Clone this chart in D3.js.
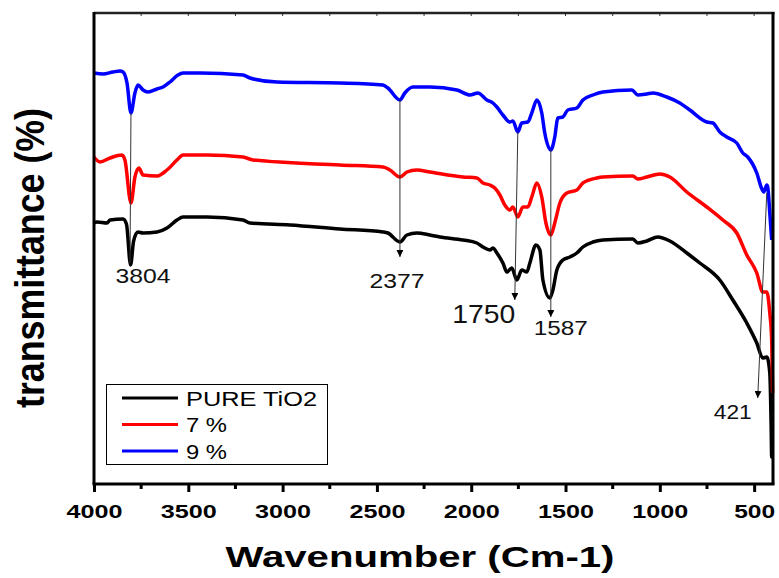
<!DOCTYPE html>
<html>
<head>
<meta charset="utf-8">
<script src="https://cdn.jsdelivr.net/npm/d3@7"></script>
<style>
  body { margin: 0; background: white; }
  svg { display: block; }
</style>
</head>
<body>
<div id="chart"></div>
<script>
// [wavenumber (cm-1), transmittance (a.u.)]
let pureTiO2 = [
  [4000,52.2],[3984,52.4],[3931,52.2],[3915,52.8],[3846,53.0],[3828,52.0],[3806,43.8],[3790,48.6],
  [3767,50.4],[3740,50.2],[3666,50.4],[3613,51.2],[3560,52.8],[3528,53.4],[3401,53.4],[3210,52.8],
  [3173,52.2],[2961,51.8],[2696,51.0],[2468,50.4],[2442,50.2],[2378,48.4],[2341,49.8],[2288,50.2],
  [2219,49.8],[2166,49.4],[2044,48.8],[1970,48.2],[1938,47.4],[1901,46.8],[1885,47.2],[1864,46.2],
  [1832,44.2],[1811,42.4],[1785,43.2],[1758,40.8],[1732,42.8],[1705,42.4],[1689,44.2],[1657,47.8],
  [1636,46.8],[1620,40.8],[1583,37.2],[1567,38.8],[1546,42.8],[1514,44.8],[1477,45.4],[1440,46.2],
  [1408,47.4],[1355,48.4],[1302,48.8],[1143,49.0],[1117,48.2],[1069,48.6],[1011,49.4],[947,48.6],
  [857,46.2],[788,44.2],[682,40.8],[613,36.8],[539,32.2],[486,28.2],[454,25.2],[433,25.4],
  [417,22.2],[410,12.0],[407,5.4],[402,5.4]
];
let doped7 = [
  [4000,65.4],[3968,64.4],[3915,65.2],[3852,65.8],[3836,64.8],[3804,56.2],[3783,61.4],[3762,63.2],
  [3740,61.8],[3666,61.6],[3613,62.8],[3560,64.8],[3528,65.8],[3401,65.8],[3210,65.4],[3157,64.8],
  [2696,63.8],[2468,63.4],[2431,62.8],[2378,61.4],[2341,62.4],[2288,62.8],[2219,62.4],[2044,61.4],
  [1970,61.2],[1938,60.2],[1901,59.8],[1875,59.2],[1848,57.8],[1822,55.8],[1795,54.8],[1779,55.4],
  [1753,53.4],[1726,55.4],[1700,55.4],[1679,57.4],[1652,60.2],[1626,57.4],[1604,52.2],[1578,49.8],
  [1557,52.2],[1530,56.2],[1493,58.2],[1440,58.8],[1408,60.2],[1334,61.2],[1302,61.4],[1143,61.6],
  [1117,61.0],[1069,61.4],[1000,62.0],[947,61.4],[857,58.4],[751,55.4],[666,52.8],[592,50.2],
  [539,45.8],[486,42.2],[454,38.4],[433,38.4],[417,34.2],[407,28.8],[402,18.2]
];
let doped9 = [
  [4000,82.2],[3952,82.0],[3899,82.4],[3862,82.6],[3846,82.4],[3825,80.2],[3804,74.2],[3783,78.2],
  [3767,79.8],[3740,78.8],[3714,78.4],[3666,79.0],[3634,79.4],[3597,80.4],[3555,81.8],[3528,82.2],
  [3438,82.2],[3210,81.8],[3173,81.2],[3030,80.4],[2696,80.2],[2468,79.8],[2442,79.2],[2378,76.8],
  [2352,78.2],[2309,79.4],[2219,79.4],[2076,78.8],[2007,77.8],[1965,78.2],[1917,76.8],[1885,76.2],
  [1864,75.4],[1832,73.8],[1795,72.4],[1779,72.6],[1753,70.4],[1732,72.2],[1700,72.4],[1679,74.2],
  [1652,76.8],[1626,74.2],[1610,70.2],[1578,66.8],[1557,69.4],[1541,73.2],[1514,73.4],[1488,74.8],
  [1440,75.2],[1408,76.8],[1355,77.8],[1302,78.4],[1148,78.8],[1117,77.8],[1069,78.0],[1037,78.2],
  [963,77.4],[894,76.2],[841,74.8],[751,72.4],[719,72.2],[682,70.4],[645,69.4],[592,68.2],
  [560,66.2],[534,65.4],[486,62.2],[459,59.0],[449,58.4],[433,59.8],[428,59.4],[417,54.2],[407,48.8]
];

let seriesNames = ['PURE TiO2', '7 %', '9 %'];
let seriesData = [pureTiO2, doped7, doped9];
let colors = ['#000000', '#ff0000', '#0000ff'];

let xTicks = [4000, 3500, 3000, 2500, 2000, 1500, 1000, 500];
let xMinorTicks = [3750, 3250, 2750, 2250, 1750, 1250, 750];

// peak marks: label, arrow start [wn, T], arrow end [wn, T]
let peakLabels = ['3804', '2377', '1750', '1587', '421'];
let peakStart = [[3804,74.2],[2378,76.8],[1753,70.4],[1578,66.8],[433,58.2]];
let peakEnd = [[3809,44.2],[2378,45.4],[1769,36.8],[1578,33.4],[481,17.2]];

const w = 779;
const h = 578;
const margin = {left: 94, right: 6, top: 13, bottom: 94};

let svg = d3.select('#chart').append('svg')
    .attr('width', w)
    .attr('height', h)
    .style('font-family', '"Liberation Sans", Arial, sans-serif');

let x = d3.scaleLinear()
    .domain([4000, 400])
    .range([margin.left, w - margin.right]);

let y = d3.scaleLinear()
    .domain([0, 94.2])
    .range([h - margin.bottom, margin.top]);

let x0 = margin.left, x1 = w - margin.right;
let y0 = h - margin.bottom, y1 = margin.top;

// arrow head
svg.append('defs').append('marker')
    .attr('id', 'head')
    .attr('viewBox', '0 0 10 10')
    .attr('refX', 10)
    .attr('refY', 5)
    .attr('markerWidth', 7)
    .attr('markerHeight', 7)
    .attr('markerUnits', 'userSpaceOnUse')
    .attr('orient', 'auto')
  .append('path')
    .attr('d', 'M0,0 L10,5 L0,10 Z')
    .attr('fill', '#000');

// spectra
let line = d3.line()
    .x(d => x(d[0]))
    .y(d => y(d[1]))
    .curve(d3.curveMonotoneX);

seriesData.forEach(function(data, i){
  svg.append('path')
    .datum(data)
    .attr('d', line)
    .attr('fill', 'none')
    .attr('stroke', colors[i])
    .attr('stroke-width', 3.5)
    .attr('stroke-linejoin', 'round');
});

// peak arrows + labels
let labelOffsets = [[13, 20], [-3, 31], [-31, 23], [10, 18], [-25, 21]];
let labelSizes = [20, 20, 25, 20, 20];
let labelLengths = [55, 55, 63, 54, 38];

peakLabels.forEach(function(lab, i){
  svg.append('line')
    .attr('x1', x(peakStart[i][0]))
    .attr('y1', y(peakStart[i][1]))
    .attr('x2', x(peakEnd[i][0]))
    .attr('y2', y(peakEnd[i][1]))
    .attr('stroke', '#333')
    .attr('stroke-width', 1)
    .attr('marker-end', i == 0 ? null : 'url(#head)');

  svg.append('text')
    .attr('x', x(peakEnd[i][0]) + labelOffsets[i][0])
    .attr('y', y(peakEnd[i][1]) + labelOffsets[i][1])
    .attr('text-anchor', 'middle')
    .attr('font-size', labelSizes[i])
    .attr('textLength', labelLengths[i])
    .attr('lengthAdjust', 'spacingAndGlyphs')
    .attr('fill', '#111')
    .text(lab);
});

// bottom axis
let xAxis = svg.append('g')
    .attr('transform', `translate(0,${y0})`)
    .call(d3.axisBottom(x).tickValues(xTicks).tickSize(8).tickFormat(d3.format('d')));
xAxis.select('.domain').remove();
xAxis.selectAll('line').attr('stroke-width', 3);
xAxis.selectAll('text')
    .attr('y', 34)
    .attr('dy', 0)
    .attr('font-size', 18)
    .attr('font-weight', 'bold')
    .attr('fill', '#000')
    .attr('textLength', d => d >= 1000 ? 56 : 41)
    .attr('lengthAdjust', 'spacingAndGlyphs');

svg.append('g')
  .selectAll('line')
  .data(xMinorTicks)
  .enter()
  .append('line')
    .attr('x1', d => x(d))
    .attr('x2', d => x(d))
    .attr('y1', y0)
    .attr('y2', y0 + 5)
    .attr('stroke', '#000')
    .attr('stroke-width', 3);

// top ticks (inward)
svg.append('g')
  .selectAll('line')
  .data(xTicks.concat(xMinorTicks))
  .enter()
  .append('line')
    .attr('x1', d => x(d))
    .attr('x2', d => x(d))
    .attr('y1', y1)
    .attr('y2', y1 + 3)
    .attr('stroke', '#333')
    .attr('stroke-width', 1);

// frame
svg.append('line').attr('x1', x0).attr('x2', x1 + 1.5).attr('y1', y1).attr('y2', y1)
    .attr('stroke', '#222').attr('stroke-width', 2.5);
svg.append('line').attr('x1', x0 - 1.5).attr('x2', x1 + 1.5).attr('y1', y0).attr('y2', y0)
    .attr('stroke', '#000').attr('stroke-width', 3);
svg.append('line').attr('x1', x0).attr('x2', x0).attr('y1', y1 - 1).attr('y2', y0)
    .attr('stroke', '#000').attr('stroke-width', 3);
svg.append('line').attr('x1', x1).attr('x2', x1).attr('y1', y1 - 1).attr('y2', y0)
    .attr('stroke', '#000').attr('stroke-width', 3);

// legend
let legend = svg.append('g');
legend.append('rect')
    .attr('x', 106.5)
    .attr('y', 384.5)
    .attr('width', 221)
    .attr('height', 80)
    .attr('fill', 'white')
    .attr('stroke', '#000')
    .attr('stroke-width', 1);

let legendLengths = [131, 41, 41];
seriesNames.forEach(function(name, i){
  let ly = 398 + i * 26.5;
  legend.append('line')
    .attr('x1', 122).attr('x2', 178)
    .attr('y1', ly).attr('y2', ly)
    .attr('stroke', colors[i])
    .attr('stroke-width', 3);
  legend.append('text')
    .attr('x', 186)
    .attr('y', ly + 7.5)
    .attr('font-size', 21)
    .attr('textLength', legendLengths[i])
    .attr('lengthAdjust', 'spacingAndGlyphs')
    .text(name);
});

// axis titles
svg.append('text')
    .attr('x', 420)
    .attr('y', 567)
    .attr('text-anchor', 'middle')
    .attr('font-size', 30)
    .attr('font-weight', 'bold')
    .attr('textLength', 389)
    .attr('lengthAdjust', 'spacingAndGlyphs')
    .text('Wavenumber (Cm-1)');

svg.append('text')
    .attr('transform', 'translate(44,258) scale(1.35,1) rotate(-90)')
    .attr('text-anchor', 'middle')
    .attr('font-size', 30)
    .attr('font-weight', 'bold')
    .attr('textLength', 300)
    .attr('lengthAdjust', 'spacingAndGlyphs')
    .text('transmittance (%)');
</script>
</body>
</html>
